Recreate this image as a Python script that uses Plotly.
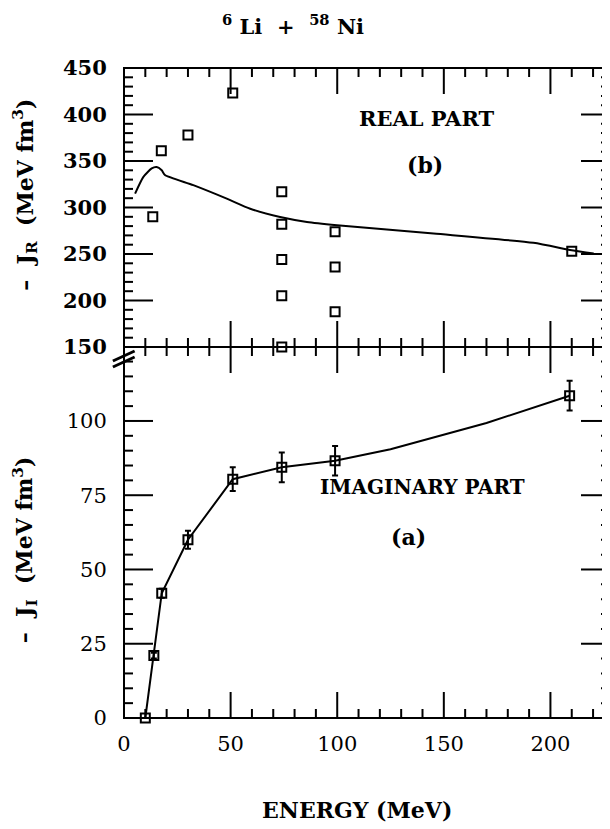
import plotly.graph_objects as go
from plotly.subplots import make_subplots

# ---- Data ----
# Real part (top panel, -J_R in MeV fm^3)
real_E = [13.5, 17.5, 30, 51, 74, 74, 74, 74, 74, 99, 99, 99, 210]
real_J = [290, 361, 378, 423, 317, 282, 244, 205, 150, 274, 236, 188, 253]
real_curve_E = [5.2, 9.1, 13, 15.3, 17.7, 19.2, 32.5, 48.2, 59.2, 73.2, 85.8, 99.9, 145.2, 192, 210, 220.3]
real_curve_J = [315, 333, 342, 343.5, 340, 335, 324, 309.5, 298.7, 289.8, 284.5, 281, 272, 262, 254, 250.5]

# Imaginary part (bottom panel, -J_I in MeV fm^3)
imag_E = [10, 14, 17.7, 30, 51, 74, 99, 209]
imag_J = [0, 21, 42, 60, 80.4, 84.4, 86.6, 108.5]
imag_err = [0, 1, 1.5, 3, 4, 5, 5, 5]
imag_curve_E = [10, 14, 17.7, 30, 51, 74, 99, 125, 139, 170, 209]
imag_curve_J = [0, 21, 42, 60, 80.4, 84.4, 86.6, 90.5, 93.3, 99.3, 108.5]

# Tick values
x_major = [0, 50, 100, 150, 200]
x_minor = [10, 20, 30, 40, 60, 70, 80, 90, 110, 120, 130, 140, 160, 170, 180, 190, 210, 220]
yR_major = [150, 200, 250, 300, 350, 400, 450]
yR_minor = [v for v in range(160, 450, 10) if v % 50]
yI_major = [0, 25, 50, 75, 100]
yI_minor = [v for v in range(5, 125, 5) if v % 25]

FONT = "DejaVu Serif"
BLK = "black"
CLEAR = "rgba(0,0,0,0)"

fig = make_subplots(rows=2, cols=1, shared_xaxes=True, vertical_spacing=0,
                    row_heights=[279, 371])

marker = dict(symbol="square-open", size=9, color=BLK, line=dict(width=2, color=BLK))

fig.add_trace(go.Scatter(x=real_curve_E, y=real_curve_J, mode="lines",
                         line=dict(color=BLK, width=2, shape="spline", smoothing=0.6),
                         showlegend=False), row=1, col=1)
fig.add_trace(go.Scatter(x=real_E, y=real_J, mode="markers", marker=marker,
                         showlegend=False, cliponaxis=False), row=1, col=1)
fig.add_trace(go.Scatter(x=imag_curve_E, y=imag_curve_J, mode="lines",
                         line=dict(color=BLK, width=2), showlegend=False), row=2, col=1)
fig.add_trace(go.Scatter(x=imag_E, y=imag_J, mode="markers", marker=marker,
                         error_y=dict(type="data", array=imag_err, color=BLK, thickness=2, width=3),
                         showlegend=False, cliponaxis=False), row=2, col=1)

# axes: labels only (transparent outside ticks used as label spacing)
fig.update_xaxes(range=[0, 227], showline=False, ticks="outside", ticklen=7, tickcolor=CLEAR,
                 tickmode="array", tickvals=x_major, showgrid=False, zeroline=False,
                 tickfont=dict(family=FONT, size=21, color=BLK))
fig.update_yaxes(showline=False, ticks="outside", ticklen=12, tickcolor=CLEAR,
                 showgrid=False, zeroline=False)
fig.update_yaxes(range=[150, 450], tickmode="array", tickvals=yR_major,
                 tickfont=dict(family=FONT, size=21, color=BLK, weight="bold"), row=1, col=1)
fig.update_yaxes(range=[0, 124.9], tickmode="array", tickvals=yI_major,
                 tickfont=dict(family=FONT, size=21, color=BLK), row=2, col=1)

fig.update_layout(
    width=602, height=821,
    margin=dict(l=116, r=2, t=60, b=111),
    paper_bgcolor="white", plot_bgcolor="white",
    font=dict(family=FONT, color=BLK),
)

def pann(text, x, y, size, bold=True, angle=0):
    return dict(text=text, xref="paper", yref="paper", x=x, y=y, xanchor="center",
                yanchor="middle", showarrow=False, textangle=angle,
                font=dict(family=FONT, size=size, weight="bold" if bold else "normal"))

ann = [
    pann("<sup>6</sup> Li  +  <sup>58</sup> Ni", 0.349, 1.066, 21),
    pann("–  J<sub>R</sub>  (MeV fm<sup>3</sup>)", -0.2045, 0.805, 22, angle=-90),
    pann("–  J<sub>I</sub>  (MeV fm<sup>3</sup>)", -0.2045, 0.258, 22, angle=-90),
    pann("ENERGY (MeV)", 0.481, -0.1415, 22),
    dict(text="REAL PART", xref="x", yref="y", x=142, y=396, showarrow=False,
         font=dict(family=FONT, size=21, weight="bold")),
    dict(text="(b)", xref="x", yref="y", x=141, y=345.7, showarrow=False,
         font=dict(family=FONT, size=22, weight="bold")),
    dict(text="IMAGINARY PART", xref="x2", yref="y2", x=140, y=77.7, showarrow=False,
         font=dict(family=FONT, size=20, weight="bold")),
    dict(text="(a)", xref="x2", yref="y2", x=133.3, y=61.1, showarrow=False,
         font=dict(family=FONT, size=22, weight="bold")),
]
fig.update_layout(annotations=ann)

split = 371 / 650
LW = dict(color=BLK, width=2)
shapes = []
# frame and panel divider
shapes.append(dict(type="rect", xref="paper", yref="paper", x0=0, x1=1, y0=0, y1=1, line=LW))
shapes.append(dict(type="line", xref="paper", yref="paper", x0=0, x1=1, y0=split, y1=split, line=LW))

H_TOP, H_BOT, W = 279.0, 371.0, 484.0
# x ticks (top panel: x/y domain; bottom panel: x2/y2 domain)
for vals, L in ((x_major, 26), (x_minor, 9)):
    for v in vals:
        shapes.append(dict(type="line", xref="x", yref="y domain", x0=v, x1=v,
                           y0=1, y1=1 - L / H_TOP, line=LW))          # top edge, inward
        shapes.append(dict(type="line", xref="x", yref="y domain", x0=v, x1=v,
                           y0=0, y1=L / H_TOP, line=LW))              # divider, upward
        shapes.append(dict(type="line", xref="x2", yref="y2 domain", x0=v, x1=v,
                           y0=1, y1=1 - L / H_BOT, line=LW))          # divider, downward
        shapes.append(dict(type="line", xref="x2", yref="y2 domain", x0=v, x1=v,
                           y0=0, y1=L / H_BOT, line=LW))              # bottom edge, inward
# y ticks
for yref, xref, vals, L in (("y", "x domain", yR_major, 29), ("y", "x domain", yR_minor, 9),
                            ("y2", "x2 domain", yI_major, 29), ("y2", "x2 domain", yI_minor, 9)):
    for v in vals:
        shapes.append(dict(type="line", xref=xref, yref=yref, x0=0, x1=L / W,
                           y0=v, y1=v, line=LW))
        shapes.append(dict(type="line", xref=xref, yref=yref, x0=1, x1=1 - (L - 2) / W,
                           y0=v, y1=v, line=LW))
# axis-break marks
for dy in (0, 6):
    shapes.append(dict(type="line", xref="paper", yref="paper",
                       x0=-0.023, x1=0.022, y0=split - (14 + dy) / 650, y1=split - (4 + dy) / 650,
                       line=dict(color=BLK, width=3)))
fig.update_layout(shapes=shapes)

fig.write_html("out.html")
